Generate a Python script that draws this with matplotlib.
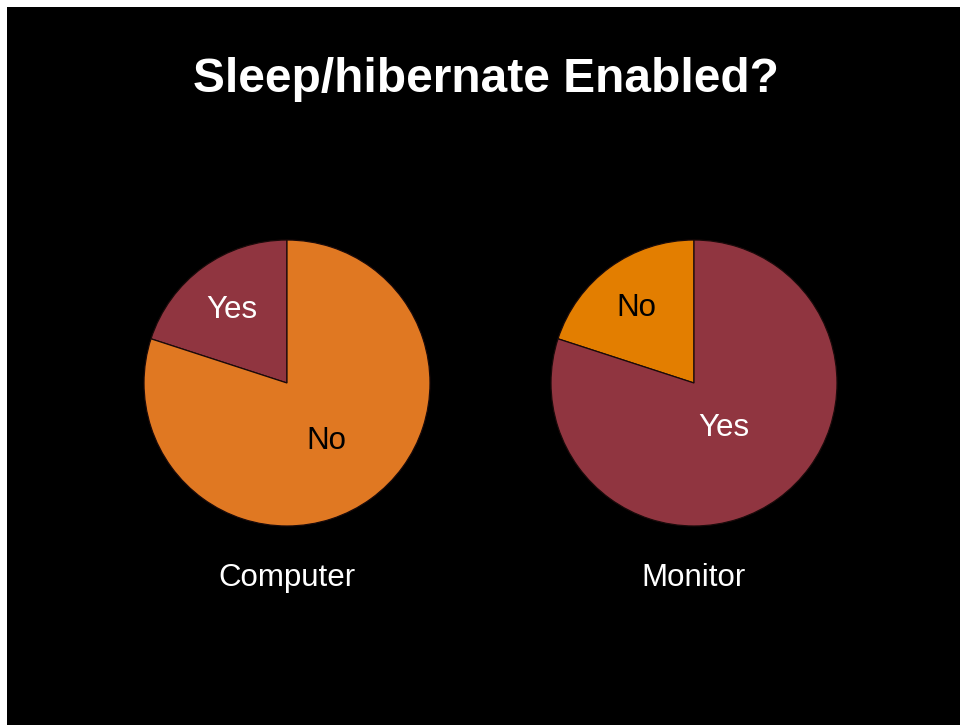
import numpy as np
import matplotlib.pyplot as plt
from matplotlib.patches import Rectangle

plt.rcParams['font.family'] = ['Liberation Sans', 'DejaVu Sans']

# Data
title = 'Sleep/hibernate Enabled?'
charts = ['Computer', 'Monitor']
computer_labels = ['Yes', 'No']
computer_values = [20, 80]
monitor_labels = ['No', 'Yes']
monitor_values = [20, 80]

computer_colors = ['#903540', '#E07822']
monitor_colors = ['#E37E00', '#903540']
computer_text = ['white', 'black']
monitor_text = ['black', 'white']

W, H = 960, 725
fig = plt.figure(figsize=(W / 100, H / 100), dpi=100, facecolor='white')
fig.patches.append(Rectangle((7 / W, 0), 1, (H - 7) / H, transform=fig.transFigure,
                             facecolor='black', edgecolor='none', zorder=-10))

fig.text(486 / W, (H - 92) / H, title, color='white', fontsize=34.5,
         fontweight='bold', ha='center', va='baseline')


def draw_pie(cx, cy, r, labels, values, colors, tcolors, dists, caption):
    ax = fig.add_axes([(cx - r) / W, (H - cy - r) / H, 2 * r / W, 2 * r / H])
    ax.patch.set_alpha(0)
    wedges, _ = ax.pie(values, colors=colors, startangle=90, counterclock=True,
                       wedgeprops=dict(edgecolor='#1a0a0a', linewidth=0.9))
    for w, lab, tc, d in zip(wedges, labels, tcolors, dists):
        ang = np.deg2rad((w.theta1 + w.theta2) / 2)
        ax.text(d * np.cos(ang), d * np.sin(ang), lab, color=tc, fontsize=22.5,
                ha='center', va='center_baseline')
    ax.set_xlim(-1, 1)
    ax.set_ylim(-1, 1)
    ax.set_aspect('equal')
    ax.axis('off')
    fig.text(cx / W, (H - 586) / H, caption, color='white', fontsize=22.5,
             ha='center', va='baseline')


draw_pie(287, 383, 143, computer_labels, computer_values, computer_colors,
         computer_text, [0.66, 0.47], charts[0])
draw_pie(694, 383, 143, monitor_labels, monitor_values, monitor_colors,
         monitor_text, [0.68, 0.36], charts[1])

fig.savefig('out.png', dpi=100, facecolor='white')
